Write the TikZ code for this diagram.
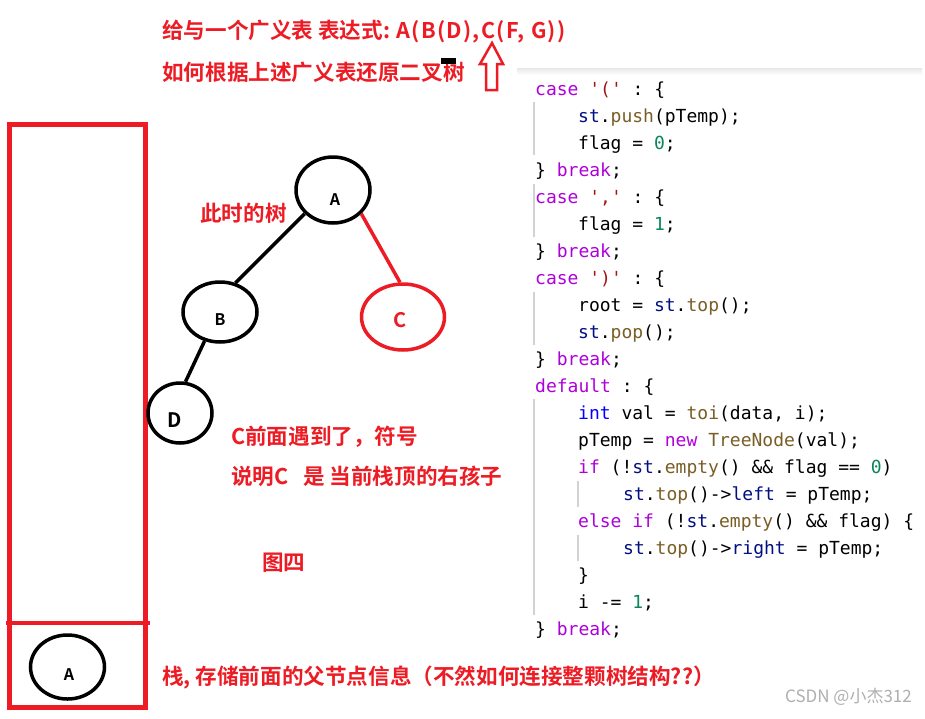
\documentclass[tikz,border=0pt]{standalone}
\usepackage{fontspec}
\usetikzlibrary{shapes.geometric}
\setmonofont{DejaVu Sans Mono}
\newfontfamily\cjk{Noto Sans CJK SC}[BoldFont={* Bold}]
\newfontfamily\wmfont{Noto Sans CJK SC}
\definecolor{pred}{RGB}{237,28,36}
\definecolor{ckw}{RGB}{175,0,219}
\definecolor{cfn}{RGB}{121,94,38}
\definecolor{cvr}{RGB}{0,16,128}
\definecolor{cnm}{RGB}{9,134,88}
\definecolor{cstr}{RGB}{163,21,21}
\definecolor{cty}{RGB}{0,0,255}
\definecolor{cguide}{RGB}{210,210,210}
\definecolor{cwm}{RGB}{175,175,175}
\newcommand{\ckw}[1]{\textcolor{ckw}{#1}}
\newcommand{\cfn}[1]{\textcolor{cfn}{#1}}
\newcommand{\cvr}[1]{\textcolor{cvr}{#1}}
\newcommand{\cnm}[1]{\textcolor{cnm}{#1}}
\newcommand{\cstr}[1]{\textcolor{cstr}{#1}}
\newcommand{\cty}[1]{\textcolor{cty}{#1}}
\tikzset{
  redtxt/.style={text=pred, font=\cjk\bfseries\fontsize{21.6}{26}\selectfont, inner sep=0pt, anchor=west},
  codeline/.style={font=\ttfamily\fontsize{18}{22}\selectfont, inner sep=0pt, anchor=base west},
  treenode/.style={ellipse, draw=black, line width=3.5pt, font=\cjk\bfseries\fontsize{17}{20}\selectfont},
  rededge/.style={draw=pred, line width=3.5pt},
  blkedge/.style={draw=black, line width=3.5pt},
  guide/.style={draw=cguide, line width=1.5pt},
}
\begin{document}
\begin{tikzpicture}[x=1pt,y=-1pt]
\useasboundingbox (0,0) rectangle (925,718);
\fill[white] (0,0) rectangle (925,718);
% code panel top shadow
\shade[top color=black!9, bottom color=white] (517,68) rectangle (922,75);
% title
\node[redtxt] (t1) at (162,32) {给与一个广义表 表达式: {\addfontfeatures{LetterSpace=6}A(B(D),C(F, G))}};
\node[redtxt] (t2) at (162,72) {如何根据上述广义表还原二叉树};
\fill[black] (441,58) rectangle (456,64);
% hollow up arrow
\draw[pred, line width=2.5pt, line join=miter] (492,43) -- (503,64) -- (497,64) -- (497,90) -- (486,90) -- (486,64) -- (480,64) -- cycle;
% stack rectangle
\draw[pred, line width=5pt] (9.5,124.5) rectangle (145.5,707);
\draw[pred, line width=4.5pt] (6,623) -- (150,623);
\node[ellipse, draw=black, line width=3.5pt, minimum width=74pt, minimum height=64pt, inner sep=0pt] (sa) at (67.5,667) {};
\node[font=\cjk\bfseries\fontsize{16}{18}\selectfont, inner sep=0pt] (salab) at (69,675) {A};
% tree
\node[treenode, minimum width=74pt, minimum height=66pt, inner sep=0pt] (A) at (333,190) {};
\node[font=\cjk\bfseries\fontsize{16}{18}\selectfont, inner sep=0pt] (Alab) at (335,200) {A};
\node[treenode, minimum width=74pt, minimum height=60pt, inner sep=0pt] (B) at (220,312) {};
\node[font=\cjk\bfseries\fontsize{16}{18}\selectfont, inner sep=0pt] (Blab) at (220,320) {B};
\node[ellipse, draw=pred, line width=3.5pt, minimum width=83pt, minimum height=66pt, inner sep=0pt] (C) at (403,317) {};
\node[font=\cjk\bfseries\fontsize{20}{24}\selectfont, text=pred, inner sep=0pt] (Clab) at (400,320) {C};
\node[treenode, minimum width=64pt, minimum height=60pt, inner sep=0pt] (D) at (180,413) {};
\node[font=\cjk\bfseries\fontsize{20}{24}\selectfont, inner sep=0pt] (Dlab) at (175,420) {D};
\draw[blkedge] (A.220) -- (B.62);
\draw[rededge] (A.-40) -- (C.95);
\draw[blkedge] (B.-118) -- (D.80);
% labels
\node[redtxt] (l1) at (200,213) {此时的树};
\node[redtxt] (l2) at (231,437) {C前面遇到了，符号};
\node[redtxt] (l3) at (231,476) {说明C\ \ \ 是 当前栈顶的右孩子};
\node[redtxt] (l4) at (262,563) {图四};
\node[redtxt] (l5) at (162,678) {栈, 存储前面的父节点信息（不然如何连接整颗树结构??）};
\node[font=\wmfont\fontsize{17}{20}\selectfont, text=cwm, inner sep=0pt, anchor=east] (wm) at (912,697) {CSDN @小杰312};
% indent guides
\draw[guide] (534,102) -- (534,155);
\draw[guide] (534,184) -- (534,237);
\draw[guide] (534,292) -- (534,345);
\draw[guide] (534,399) -- (534,615);
\draw[guide] (578,481) -- (578,507);
\draw[guide] (578,535) -- (578,561);
% code
\node[codeline] (c1) at (535,95) {\ckw{case} \cstr{'('} : \{};
\node[codeline] (c2) at (578,122) {\cvr{st}.\cfn{push}(pTemp);};
\node[codeline] (c3) at (578,149) {flag = \cnm{0};};
\node[codeline] (c4) at (535,176) {\} \ckw{break};};
\node[codeline] (c5) at (535,203) {\ckw{case} \cstr{','} : \{};
\node[codeline] (c6) at (578,230) {flag = \cnm{1};};
\node[codeline] (c7) at (535,257) {\} \ckw{break};};
\node[codeline] (c8) at (535,284) {\ckw{case} \cstr{')'} : \{};
\node[codeline] (c9) at (578,311) {root = \cvr{st}.\cfn{top}();};
\node[codeline] (c10) at (578,338) {\cvr{st}.\cfn{pop}();};
\node[codeline] (c11) at (535,365) {\} \ckw{break};};
\node[codeline] (c12) at (535,392) {\ckw{default} : \{};
\node[codeline] (c13) at (578,419) {\cty{int} val = \cfn{toi}(data, i);};
\node[codeline] (c14) at (578,446) {pTemp = \ckw{new} \cfn{TreeNode}(val);};
\node[codeline] (c15) at (578,473) {\ckw{if} (!\cvr{st}.\cfn{empty}() \&\& flag == \cnm{0})};
\node[codeline] (c16) at (623,500) {\cvr{st}.\cfn{top}()->\cvr{left} = pTemp;};
\node[codeline] (c17) at (578,527) {\ckw{else} \ckw{if} (!\cvr{st}.\cfn{empty}() \&\& flag) \{};
\node[codeline] (c18) at (623,554) {\cvr{st}.\cfn{top}()->\cvr{right} = pTemp;};
\node[codeline] (c19) at (578,581) {\}};
\node[codeline] (c20) at (578,608) {i -= \cnm{1};};
\node[codeline] (c21) at (535,635) {\} \ckw{break};};
\end{tikzpicture}
\end{document}
